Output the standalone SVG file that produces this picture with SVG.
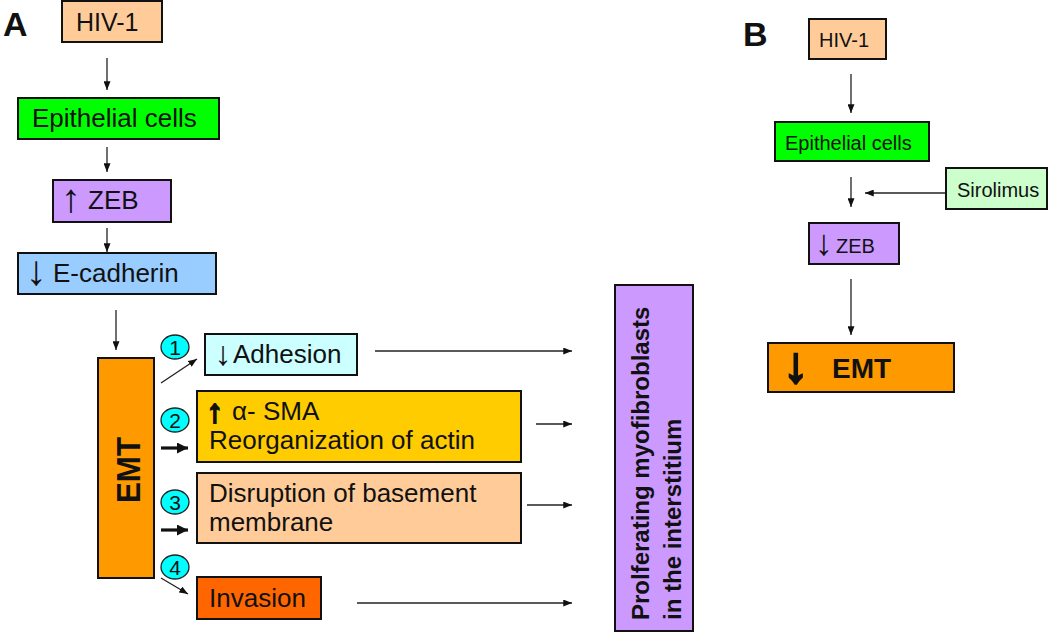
<svg xmlns="http://www.w3.org/2000/svg" width="1050" height="633" viewBox="0 0 1050 633">
<style>
.box{stroke:#111;stroke-width:2}
.t{font-family:"Liberation Sans",Arial,sans-serif;fill:#111}
.b{font-weight:bold}
.c{fill:none;stroke:#222;stroke-width:1.3}
.ct{fill:none;stroke:#111;stroke-width:3.2}
.num{fill:#00FFFF;stroke:#222;stroke-width:1.3}
.thick{stroke:#111;stroke-width:2.2}
</style>
<defs>
<marker id="ah" viewBox="0 0 10 8" refX="10" refY="4" markerWidth="9" markerHeight="7" markerUnits="userSpaceOnUse" orient="auto">
<path d="M0,0 L10,4 L0,8 z" fill="#111"/>
</marker>
<marker id="ahT" viewBox="0 0 10 10" refX="10" refY="5" markerWidth="11" markerHeight="11" markerUnits="userSpaceOnUse" orient="auto">
<path d="M0,0 L10,5 L0,10 z" fill="#111"/>
</marker>
</defs>
<rect width="1050" height="633" fill="#fff"/>

<text class="t b" x="3" y="36" font-size="34">A</text>
<text class="t b" x="743" y="46" font-size="34">B</text>

<g id="connectors">
<path class="c" d="M107,58 V90" marker-end="url(#ah)"/>
<path class="c" d="M107,147 V172" marker-end="url(#ah)"/>
<path class="c" d="M107,228 V252" marker-end="url(#ah)"/>
<path class="c" d="M116,310 V350" marker-end="url(#ah)"/>
<path class="c" d="M161,383 L197,359" marker-end="url(#ah)"/>
<path class="ct" d="M161,448 H188" marker-end="url(#ahT)"/>
<path class="ct" d="M161,530 H188" marker-end="url(#ahT)"/>
<path class="c" d="M161,578 L188,594" marker-end="url(#ah)"/>
<path class="c" d="M375,351 H572" marker-end="url(#ah)"/>
<path class="c" d="M536,424 H572" marker-end="url(#ah)"/>
<path class="c" d="M527,505 H572" marker-end="url(#ah)"/>
<path class="c" d="M357,603 H572" marker-end="url(#ah)"/>
<path class="c" d="M851,74 V113" marker-end="url(#ah)"/>
<path class="c" d="M851,177 V207" marker-end="url(#ah)"/>
<path class="c" d="M947,193 H865" marker-end="url(#ah)"/>
<path class="c" d="M851,279 V335" marker-end="url(#ah)"/>
</g>

<g id="a-hiv">
<rect class="box" x="62" y="1" width="100" height="41" fill="#FFCC99"/>
<text class="t" x="76" y="31" font-size="25">HIV-1</text>
</g>
<g id="a-epi">
<rect class="box" x="18" y="98" width="201" height="41" fill="#00FF00"/>
<text class="t" x="32" y="127" font-size="26">Epithelial cells</text>
</g>
<g id="a-zeb">
<rect class="box" x="53" y="180" width="118" height="42" fill="#CC99FF"/>
<text class="t" font-size="26"><tspan x="61" y="212" font-size="40">↑</tspan><tspan x="88" y="209">ZEB</tspan></text>
</g>
<g id="a-ecad">
<rect class="box" x="18" y="253" width="198" height="41" fill="#99CCFF"/>
<text class="t" font-size="26"><tspan x="25.5" y="285" font-size="42">↓</tspan><tspan x="53" y="282">E-cadherin</tspan></text>
</g>
<g id="a-emt">
<rect class="box" x="98" y="358" width="56" height="220" fill="#FF9900"/>
<text class="t b" transform="translate(140,503) rotate(-90)" font-size="34" textLength="66" lengthAdjust="spacingAndGlyphs">EMT</text>
</g>
<g id="n1">
<ellipse class="num" cx="175" cy="347" rx="14" ry="12"/>
<text class="t" x="175" y="354.5" font-size="21" text-anchor="middle">1</text>
</g>
<g id="n2">
<ellipse class="num" cx="175" cy="420" rx="14" ry="12"/>
<text class="t" x="175" y="427.5" font-size="21" text-anchor="middle">2</text>
</g>
<g id="n3">
<ellipse class="num" cx="175" cy="502" rx="14" ry="12"/>
<text class="t" x="175" y="509.5" font-size="21" text-anchor="middle">3</text>
</g>
<g id="n4">
<ellipse class="num" cx="175" cy="567" rx="14" ry="12"/>
<text class="t" x="175" y="574.5" font-size="21" text-anchor="middle">4</text>
</g>
<g id="a-adhesion">
<rect class="box" x="205" y="334" width="152" height="41" fill="#CCFFFF"/>
<text class="t" font-size="26"><tspan x="214.5" y="365" font-size="34">↓</tspan><tspan x="233" y="363">Adhesion</tspan></text>
</g>
<g id="a-sma">
<rect class="box" x="197" y="391" width="324" height="71" fill="#FFCC00"/>
<text class="t" font-size="26"><tspan class="thick" x="207" y="422" font-size="32">↑</tspan><tspan x="232" y="420">α- SMA</tspan></text>
<text class="t" x="209" y="449" font-size="26">Reorganization of actin</text>
</g>
<g id="a-disruption">
<rect class="box" x="197" y="473" width="324" height="70" fill="#FFCC99"/>
<text class="t" x="209" y="502" font-size="26">Disruption of basement</text>
<text class="t" x="209" y="531" font-size="26">membrane</text>
</g>
<g id="a-invasion">
<rect class="box" x="197" y="577" width="124" height="42" fill="#FF6600"/>
<text class="t" x="209" y="607" font-size="26">Invasion</text>
</g>
<g id="a-prolif">
<rect class="box" x="615" y="285" width="78" height="346" fill="#CC99FF"/>
<text class="t b" transform="translate(649,620) rotate(-90)" font-size="24">Prolferating myofibroblasts</text>
<text class="t b" transform="translate(681,620) rotate(-90)" font-size="24">in the interstitium</text>
</g>

<g id="b-hiv">
<rect class="box" x="809" y="19" width="77" height="40" fill="#FFCC99"/>
<text class="t" x="819" y="47" font-size="20">HIV-1</text>
</g>
<g id="b-epi">
<rect class="box" x="775" y="122" width="154" height="39" fill="#00FF00"/>
<text class="t" x="785" y="150" font-size="20">Epithelial cells</text>
</g>
<g id="b-sirolimus">
<rect class="box" x="946" y="168" width="101" height="41" fill="#CCFFCC"/>
<text class="t" x="957" y="197" font-size="20">Sirolimus</text>
</g>
<g id="b-zeb">
<rect class="box" x="809" y="223" width="90" height="41" fill="#CC99FF"/>
<text class="t" font-size="20"><tspan x="815" y="255" font-size="36">↓</tspan><tspan x="836" y="253">ZEB</tspan></text>
</g>
<g id="b-emt">
<rect class="box" x="768" y="343" width="186" height="49" fill="#FF9900"/>
<text class="t b" font-size="28"><tspan x="783.5" y="382" font-size="50" stroke="#111" stroke-width="2.5">↓</tspan><tspan x="832" y="378">EMT</tspan></text>
</g>
</svg>
